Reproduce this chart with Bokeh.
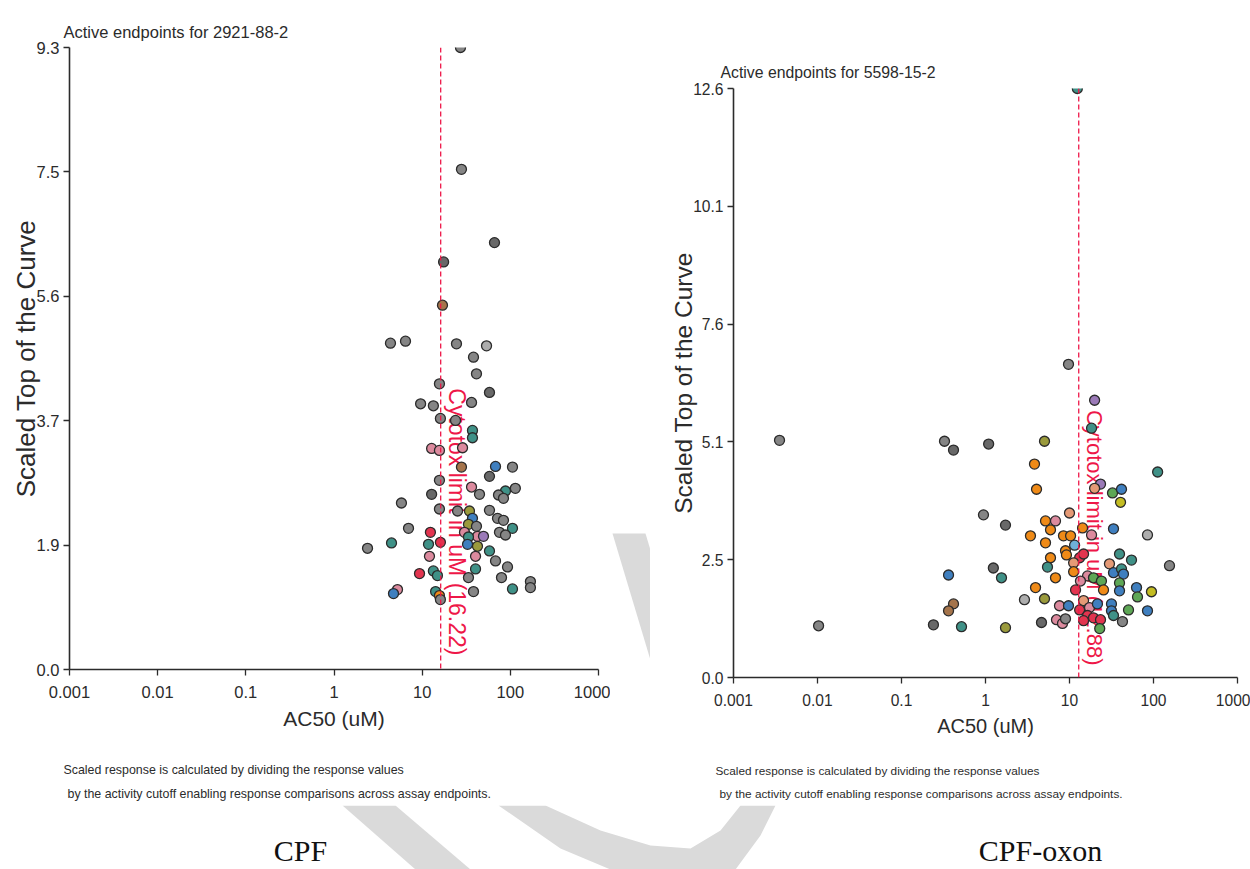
import math
from bokeh.plotting import figure
from bokeh.models import Range1d, FixedTicker, Span, PrintfTickFormatter, ColumnDataSource
from bokeh.layouts import row, column
from bokeh.core.properties import value
from bokeh.embed import file_html
from bokeh.resources import INLINE

SANS = "Liberation Sans"
SERIF = "Liberation Serif"

# ---------------- data ----------------
x_ticks = [0.001, 0.01, 0.1, 1, 10, 100, 1000]
x_tick_labels = ["0.001", "0.01", "0.1", "1", "10", "100", "1000"]

cpf_y_ticks = [0, 1.868, 3.736, 5.604, 7.472, 9.34]
oxon_y_ticks = [0, 2.528, 5.056, 7.584, 10.112, 12.64]

cpf_cutoff = 16.22
oxon_cutoff = 12.88

cpf_ac50 = [27.2, 27.9, 66.1, 17.5, 17.0, 4.37, 6.47, 24.5, 53.7, 38.2,
            41.3, 15.7, 58.0, 9.6, 13.4, 36.3, 16.1, 23.9, 37.2, 37.2,
            12.8, 15.7, 28.7, 27.9, 67.9, 105.8, 58.0, 15.7, 36.3, 44.7,
            114, 88.1, 73.4, 83.6, 12.8, 5.82, 15.7, 25.2, 34.4, 58.0,
            37.2, 71.5, 83.6, 33.5, 41.3, 7.0, 105.8, 75.3, 88.1, 30.2,
            12.4, 42.4, 49.6, 33.5, 16.1, 4.49, 2.40, 32.7, 42.4, 11.8,
            58.0, 12.1, 40.3, 67.9, 92.9, 40.3, 9.33, 13.4, 14.9, 33.5,
            79.4, 169, 169, 5.25, 4.73, 14.2, 15.7, 16.1, 38.2, 105.8]
cpf_top = [9.34, 7.51, 6.41, 6.12, 5.47, 4.90, 4.93, 4.89, 4.86, 4.69,
           4.44, 4.29, 4.16, 3.99, 3.96, 4.01, 3.77, 3.74, 3.59, 3.48,
           3.32, 3.29, 3.33, 3.04, 3.05, 3.04, 2.90, 2.84, 2.74, 2.63,
           2.72, 2.68, 2.62, 2.57, 2.63, 2.50, 2.41, 2.38, 2.38, 2.39,
           2.27, 2.27, 2.24, 2.18, 2.15, 2.12, 2.12, 2.06, 2.02, 2.06,
           2.06, 2.00, 2.00, 1.99, 1.91, 1.90, 1.82, 1.88, 1.85, 1.88,
           1.78, 1.70, 1.70, 1.63, 1.54, 1.51, 1.44, 1.48, 1.41, 1.38,
           1.38, 1.32, 1.23, 1.20, 1.14, 1.17, 1.11, 1.05, 1.17, 1.21]
cpf_group = ["gray", "gray", "dgray", "dgray", "brown", "gray", "gray", "gray", "lgray", "gray",
             "gray", "gray", "dgray", "gray", "gray", "gray", "gray", "gray", "teal", "teal",
             "pink", "pink", "pink", "brown", "blue", "gray", "dgray", "gray", "pink", "gray",
             "gray", "teal", "gray", "gray", "dgray", "gray", "gray", "gray", "olive", "gray",
             "blue", "gray", "gray", "olive", "gray", "gray", "teal", "gray", "gray", "pink",
             "red", "pink", "purple", "teal", "red", "teal", "gray", "blue", "olive", "teal",
             "teal", "pink", "pink", "gray", "gray", "teal", "red", "teal", "teal", "gray",
             "gray", "gray", "gray", "pink", "blue", "teal", "orange", "gray", "gray", "teal"]

oxon_ac50 = [0.00353, 0.0103, 12.4, 9.73, 19.9, 18.3, 0.325, 0.416, 1.09, 5.04,
             3.83, 112, 4.05, 23.4, 19.9, 32.5, 41.6, 40.5, 0.946, 1.73,
             5.18, 6.81, 10.0, 5.94, 3.43, 8.48, 10.3, 5.18, 14.3, 18.3,
             33.4, 84.8, 8.96, 9.2, 11.5, 13.2, 14.7, 39.4, 54.7, 5.94,
             5.47, 11.2, 11.2, 1.24, 1.55, 6.81, 0.363, 29.9, 33.4, 41.6,
             43.9, 155, 16.4, 19.3, 24.0, 13.5, 39.4, 39.4, 25.4, 11.8,
             3.94, 62.8, 64.5, 94.6, 2.91, 5.04, 0.416, 0.363, 0.240, 0.518,
             1.73, 4.64, 7.0, 8.25, 8.96, 7.6, 9.73, 14.7, 13.2, 17.3,
             21.5, 16.4, 19.3, 23.4, 22.9, 31.6, 31.6, 33.4, 42.7, 50.4,
             84.8, 14.7]
oxon_top = [5.09, 1.11, 12.64, 6.72, 5.95, 5.35, 5.07, 4.88, 5.01, 5.07,
            4.58, 4.41, 4.04, 4.15, 4.06, 3.96, 4.04, 3.76, 3.49, 3.27,
            3.36, 3.36, 3.53, 3.17, 3.04, 3.04, 3.04, 2.89, 3.21, 3.06,
            3.19, 3.06, 2.72, 2.63, 2.84, 2.57, 2.65, 2.65, 2.52, 2.57,
            2.37, 2.46, 2.27, 2.35, 2.14, 2.14, 2.20, 2.44, 2.25, 2.33,
            2.22, 2.40, 2.18, 2.14, 2.07, 2.07, 2.03, 1.86, 1.88, 1.88,
            1.93, 1.93, 1.73, 1.84, 1.67, 1.69, 1.58, 1.43, 1.13, 1.09,
            1.07, 1.18, 1.24, 1.16, 1.26, 1.54, 1.54, 1.65, 1.45, 1.50,
            1.58, 1.33, 1.28, 1.24, 1.05, 1.58, 1.43, 1.33, 1.20, 1.45,
            1.43, 1.22]
oxon_group = ["gray", "gray", "teal", "gray", "purple", "teal", "gray", "dgray", "dgray", "olive",
              "orange", "teal", "orange", "purple", "salmon", "green", "blue", "yellow", "gray", "dgray",
              "orange", "pink", "salmon", "orange", "orange", "orange", "orange", "orange", "orange", "pink",
              "blue", "lgray", "orange", "orange", "lblue", "red", "red", "teal", "teal", "orange",
              "teal", "salmon", "orange", "dgray", "teal", "orange", "blue", "salmon", "blue", "teal",
              "blue", "gray", "pink", "green", "green", "pink", "green", "blue", "orange", "red",
              "orange", "blue", "green", "yellow", "lgray", "olive", "brown", "brown", "dgray", "teal",
              "olive", "dgray", "pink", "pink", "gray", "pink", "blue", "salmon", "red", "pink",
              "blue", "red", "red", "red", "green", "blue", "blue", "teal", "gray", "green",
              "blue", "red"]

palette = {
    "gray": "#858585", "dgray": "#686868", "lgray": "#adadad",
    "teal": "#3f9187", "pink": "#dc8a9e", "blue": "#3f7fbf", "lblue": "#6fb0d8",
    "olive": "#9a9a3c", "red": "#e2344f", "orange": "#ef8a17", "green": "#5ea756",
    "purple": "#9b7ab8", "salmon": "#e59a76", "brown": "#a5744b", "yellow": "#c4bd22",
}

footnote_1 = "Scaled response is calculated by dividing the response values"
footnote_2 = "by the activity cutoff enabling response comparisons across assay endpoints."

INK = "#2b2b2b"
CUT = "#ee1748"
WM = "#dadada"


def px(v):
    return f"{v}px"


def make_plot(ac50, top, groups, yticks, cutoff, title, width, height,
              b_left, b_right, b_top, b_bottom, title_offset, title_standoff,
              label_yoff, fs):
    p = figure(width=width, height=height, x_axis_type="log",
               x_range=Range1d(0.001, 1000), y_range=Range1d(0, yticks[-1]),
               output_backend="svg", toolbar_location=None, tools="",
               min_border_left=b_left, min_border_right=b_right,
               min_border_top=b_top, min_border_bottom=b_bottom,
               frame_align=False)
    p.xgrid.visible = False
    p.ygrid.visible = False
    p.outline_line_color = None
    p.background_fill_color = "white"
    p.border_fill_color = "white"

    p.title.text = title
    p.title.text_font = SANS
    p.title.text_font_size = px(fs["title"])
    p.title.text_font_style = "normal"
    p.title.text_color = INK
    p.title.align = "left"
    p.title.offset = title_offset
    p.title.standoff = title_standoff

    p.xaxis.ticker = FixedTicker(ticks=x_ticks)
    p.xaxis.major_label_overrides = dict(zip(x_ticks, x_tick_labels))
    p.yaxis.ticker = FixedTicker(ticks=yticks)
    p.yaxis.formatter = PrintfTickFormatter(format="%.1f")
    for ax in (p.xaxis, p.yaxis):
        ax.axis_line_color = INK
        ax.axis_line_width = 1.6
        ax.major_tick_line_color = INK
        ax.major_tick_line_width = 1.3
        ax.major_tick_out = 6
        ax.major_tick_in = 0
        ax.minor_tick_line_color = None
        ax.major_label_text_font = SANS
        ax.major_label_text_font_size = px(fs["tick"])
        ax.major_label_text_color = INK
        ax.axis_label_text_font = SANS
        ax.axis_label_text_font_style = "normal"
        ax.axis_label_text_color = INK
    p.xaxis.axis_label = "AC50 (uM)"
    p.xaxis.axis_label_text_font_size = px(fs["xlab"])
    p.xaxis.major_label_standoff = 10
    p.xaxis.axis_label_standoff = 6
    p.yaxis.axis_label = "Scaled Top of the Curve"
    p.yaxis.axis_label_text_font_size = px(fs["ylab"])
    p.yaxis.major_label_standoff = 4
    p.yaxis.axis_label_standoff = -7

    p.add_layout(Span(location=cutoff, dimension="height", line_color=CUT,
                      line_dash="5 3", line_width=1.3))
    p.text(x=[cutoff], y=[0], text=[f"Cytotox limit in uM ({cutoff})"],
           angle=-math.pi / 2, text_align="right", text_baseline="bottom",
           x_offset=3, y_offset=label_yoff, text_font=value(SANS),
           text_font_size=px(fs["cut"]), text_color=CUT)

    src = ColumnDataSource(dict(ac50=ac50, top=top,
                                color=[palette[g] for g in groups]))
    p.scatter(x="ac50", y="top", source=src, size=10, fill_color="color",
              line_color=INK, line_width=1.3)
    return p


def blank(width, height, x0, x1, y0, y1):
    p = figure(width=width, height=height, x_range=Range1d(x0, x1),
               y_range=Range1d(y1, y0), output_backend="svg",
               toolbar_location=None, tools="", min_border=0,
               x_axis_location=None, y_axis_location=None, frame_align=False)
    p.xgrid.visible = False
    p.ygrid.visible = False
    p.outline_line_color = None
    p.background_fill_color = "white"
    p.border_fill_color = "white"
    return p


left = make_plot(cpf_ac50, cpf_top, cpf_group, cpf_y_ticks, cpf_cutoff,
                 "Active endpoints for 2921-88-2", 610, 750,
                 69, 12, 47, 81, -6, 14, -14,
                 dict(title=16.5, tick=16.5, xlab=21, ylab=26, cut=23))
right = make_plot(oxon_ac50, oxon_top, oxon_group, oxon_y_ticks, oxon_cutoff,
                  "Active endpoints for 5598-15-2", 600, 750,
                  83, 13, 88, 73, -13, 15, -12,
                  dict(title=15.8, tick=15.6, xlab=20, ylab=24.5, cut=22))

left_foot = blank(610, 55, 0, 610, 750, 805)
left_foot.text(x=[63, 67], y=[769, 793], text=[footnote_1, footnote_2],
               text_baseline="middle", text_align="left", text_font=value(SANS),
               text_font_size="12.4px", text_color=INK)
right_foot = blank(600, 55, 650, 1250, 750, 805)
right_foot.text(x=[715, 719], y=[770, 793], text=[footnote_1, footnote_2],
                text_baseline="middle", text_align="left", text_font=value(SANS),
                text_font_size="11.8px", text_color=INK)

gap = blank(40, 805, 610, 650, 0, 805)
gap.patch(x=[612, 645, 693, 660], y=[533, 533, 693, 693], color=WM, line_color=None)

bottom = blank(1250, 64, 0, 1250, 805, 869)
bottom.patch(x=[342, 395, 470, 415], y=[805, 805, 869, 869], color=WM, line_color=None)
bottom.patch(x=[498, 545, 600, 650, 690, 720, 740, 775, 760, 735, 610, 560],
             y=[805, 805, 830, 845, 848, 830, 805, 805, 835, 869, 869, 848],
             color=WM, line_color=None)
bottom.text(x=[300, 1040], y=[850, 850], text=["CPF", "CPF-oxon"],
            text_align="center", text_baseline="middle", text_font=value(SERIF),
            text_font_size="30px", text_color="#111111")

layout = column(row(column(left, left_foot), gap, column(right, right_foot)), bottom)

open("out.html", "w").write(file_html(layout, INLINE))
